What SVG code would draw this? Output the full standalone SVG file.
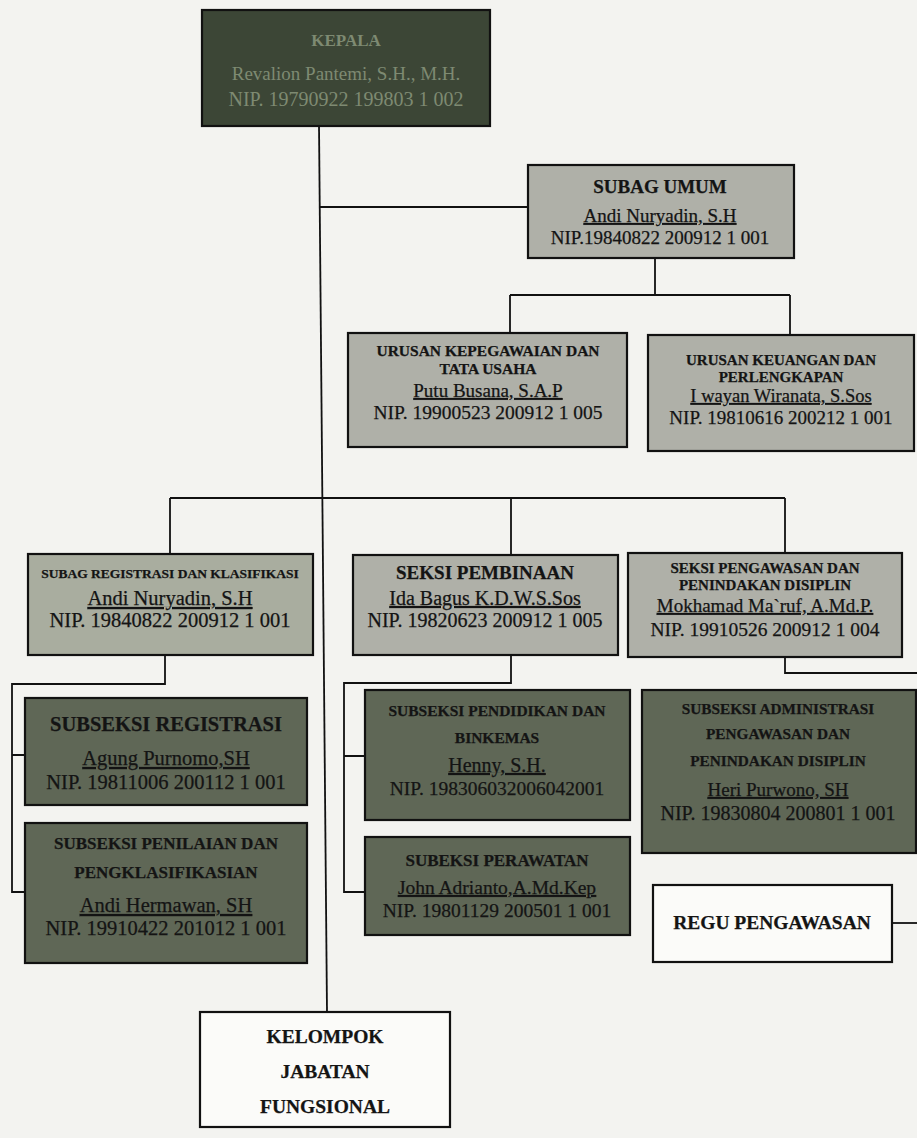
<svg xmlns="http://www.w3.org/2000/svg" width="917" height="1138" viewBox="0 0 917 1138">
<style>
.bg{fill:#f3f3f0}
.box{stroke:#111;stroke-width:2.2}
.lt{fill:#afb0a8}
.ltg{fill:#a9ad9f}
.dk{fill:#5f6756}
.top{fill:#3c4636}
.wh{fill:#fbfbf9}
.ln{stroke:#111;stroke-width:1.8;fill:none}
text{font-family:"Liberation Serif","Times New Roman",serif;fill:#141414;text-anchor:middle;stroke:#141414;stroke-width:0.25}
.b{font-weight:bold}
.u{text-decoration:underline}
.kt{fill:#7e8a72;stroke:none}
</style>
<rect class="bg" x="0" y="0" width="917" height="1138"/>

<g id="connectors">
  <path class="ln" d="M319 125 L327 1012"/>
  <path class="ln" d="M320 207 H528"/>
  <path class="ln" d="M655 258 V295 M510 295 H790 M510 295 V333 M790 295 V335"/>
  <path class="ln" d="M170 498 H785 M170 498 V554 M511 498 V555 M785 498 V553"/>
  <path class="ln" d="M165 655 V684 H12 V892 H25 M12 755 H25"/>
  <path class="ln" d="M511 655 V683 H344 V892 H365 M344 756 H365"/>
  <path class="ln" d="M785 657 V673 H917"/>
  <path class="ln" d="M892 923 H917"/>
</g>

<g id="kepala">
  <rect class="box top" x="202" y="10" width="288" height="116"/>
  <text class="b kt" x="346" y="46" font-size="17">KEPALA</text>
  <text class="kt" x="346" y="80" font-size="19">Revalion Pantemi, S.H., M.H.</text>
  <text class="kt" x="346" y="106" font-size="20">NIP. 19790922 199803 1 002</text>
</g>

<g id="subag-umum">
  <rect class="box lt" x="528" y="165" width="266" height="93"/>
  <text class="b" x="660" y="193" font-size="19">SUBAG UMUM</text>
  <text class="u" x="660" y="222" font-size="19">Andi Nuryadin, S.H</text>
  <text x="660" y="244" font-size="19">NIP.19840822 200912 1 001</text>
</g>

<g id="urusan-kepegawaian">
  <rect class="box lt" x="348" y="333" width="279" height="114"/>
  <text class="b" x="488" y="356" font-size="15.5">URUSAN KEPEGAWAIAN DAN</text>
  <text class="b" x="488" y="374" font-size="15.5">TATA USAHA</text>
  <text class="u" x="488" y="397" font-size="19">Putu Busana, S.A.P</text>
  <text x="488" y="419" font-size="19.5">NIP. 19900523 200912 1 005</text>
</g>

<g id="urusan-keuangan">
  <rect class="box lt" x="648" y="335" width="266" height="116"/>
  <text class="b" x="781" y="365" font-size="15">URUSAN KEUANGAN DAN</text>
  <text class="b" x="781" y="382" font-size="15">PERLENGKAPAN</text>
  <text class="u" x="781" y="402" font-size="18.5">I wayan Wiranata, S.Sos</text>
  <text x="781" y="424" font-size="19">NIP. 19810616 200212 1 001</text>
</g>

<g id="subag-registrasi">
  <rect class="box ltg" x="28" y="554" width="285" height="101"/>
  <text class="b" x="170" y="578" font-size="13.5">SUBAG REGISTRASI DAN KLASIFIKASI</text>
  <text class="u" x="170" y="605" font-size="20.5">Andi Nuryadin, S.H</text>
  <text x="170" y="627" font-size="20.5">NIP. 19840822 200912 1 001</text>
</g>

<g id="seksi-pembinaan">
  <rect class="box lt" x="353" y="555" width="265" height="100"/>
  <text class="b" x="485" y="579" font-size="19">SEKSI PEMBINAAN</text>
  <text class="u" x="485" y="605" font-size="20">Ida Bagus K.D.W.S.Sos</text>
  <text x="485" y="627" font-size="20">NIP. 19820623 200912 1 005</text>
</g>

<g id="seksi-pengawasan">
  <rect class="box lt" x="628" y="553" width="274" height="104"/>
  <text class="b" x="765" y="573" font-size="15">SEKSI PENGAWASAN DAN</text>
  <text class="b" x="765" y="590" font-size="15">PENINDAKAN DISIPLIN</text>
  <text class="u" x="765" y="612" font-size="19">Mokhamad Ma`ruf, A.Md.P.</text>
  <text x="765" y="636" font-size="19.5">NIP. 19910526 200912 1 004</text>
</g>

<g id="subseksi-registrasi">
  <rect class="box dk" x="25" y="698" width="282" height="107"/>
  <text class="b" x="166" y="731" font-size="20.5">SUBSEKSI REGISTRASI</text>
  <text class="u" x="166" y="765" font-size="20.5">Agung Purnomo,SH</text>
  <text x="166" y="789" font-size="20.5">NIP. 19811006 200112 1 001</text>
</g>

<g id="subseksi-penilaian">
  <rect class="box dk" x="25" y="823" width="282" height="140"/>
  <text class="b" x="166" y="849" font-size="17">SUBSEKSI PENILAIAN DAN</text>
  <text class="b" x="166" y="878" font-size="17">PENGKLASIFIKASIAN</text>
  <text class="u" x="166" y="912" font-size="20.5">Andi Hermawan, SH</text>
  <text x="166" y="935" font-size="20.5">NIP. 19910422 201012 1 001</text>
</g>

<g id="subseksi-pendidikan">
  <rect class="box dk" x="365" y="690" width="265" height="130"/>
  <text class="b" x="497" y="716" font-size="15.5">SUBSEKSI PENDIDIKAN DAN</text>
  <text class="b" x="497" y="743" font-size="15.5">BINKEMAS</text>
  <text class="u" x="497" y="772" font-size="20">Henny, S.H.</text>
  <text x="497" y="795" font-size="19.5">NIP. 198306032006042001</text>
</g>

<g id="subseksi-perawatan">
  <rect class="box dk" x="365" y="837" width="265" height="98"/>
  <text class="b" x="497" y="866" font-size="17">SUBEKSI PERAWATAN</text>
  <text class="u" x="497" y="894" font-size="19.5">John Adrianto,A.Md.Kep</text>
  <text x="497" y="917" font-size="19.5">NIP. 19801129 200501 1 001</text>
</g>

<g id="subseksi-administrasi">
  <rect class="box dk" x="642" y="690" width="274" height="163"/>
  <text class="b" x="778" y="714" font-size="15.3">SUBSEKSI ADMINISTRASI</text>
  <text class="b" x="778" y="739" font-size="15.3">PENGAWASAN DAN</text>
  <text class="b" x="778" y="766" font-size="15.3">PENINDAKAN DISIPLIN</text>
  <text class="u" x="778" y="796" font-size="19">Heri Purwono, SH</text>
  <text x="778" y="820" font-size="20">NIP. 19830804 200801 1 001</text>
</g>

<g id="regu-pengawasan">
  <rect class="box wh" x="653" y="885" width="239" height="77"/>
  <text class="b" x="772" y="929" font-size="19.5">REGU PENGAWASAN</text>
</g>

<g id="kelompok-jabatan">
  <rect class="box wh" x="200" y="1012" width="250" height="115"/>
  <text class="b" x="325" y="1043" font-size="19.5">KELOMPOK</text>
  <text class="b" x="325" y="1078" font-size="19.5">JABATAN</text>
  <text class="b" x="325" y="1113" font-size="19.5">FUNGSIONAL</text>
</g>
</svg>
